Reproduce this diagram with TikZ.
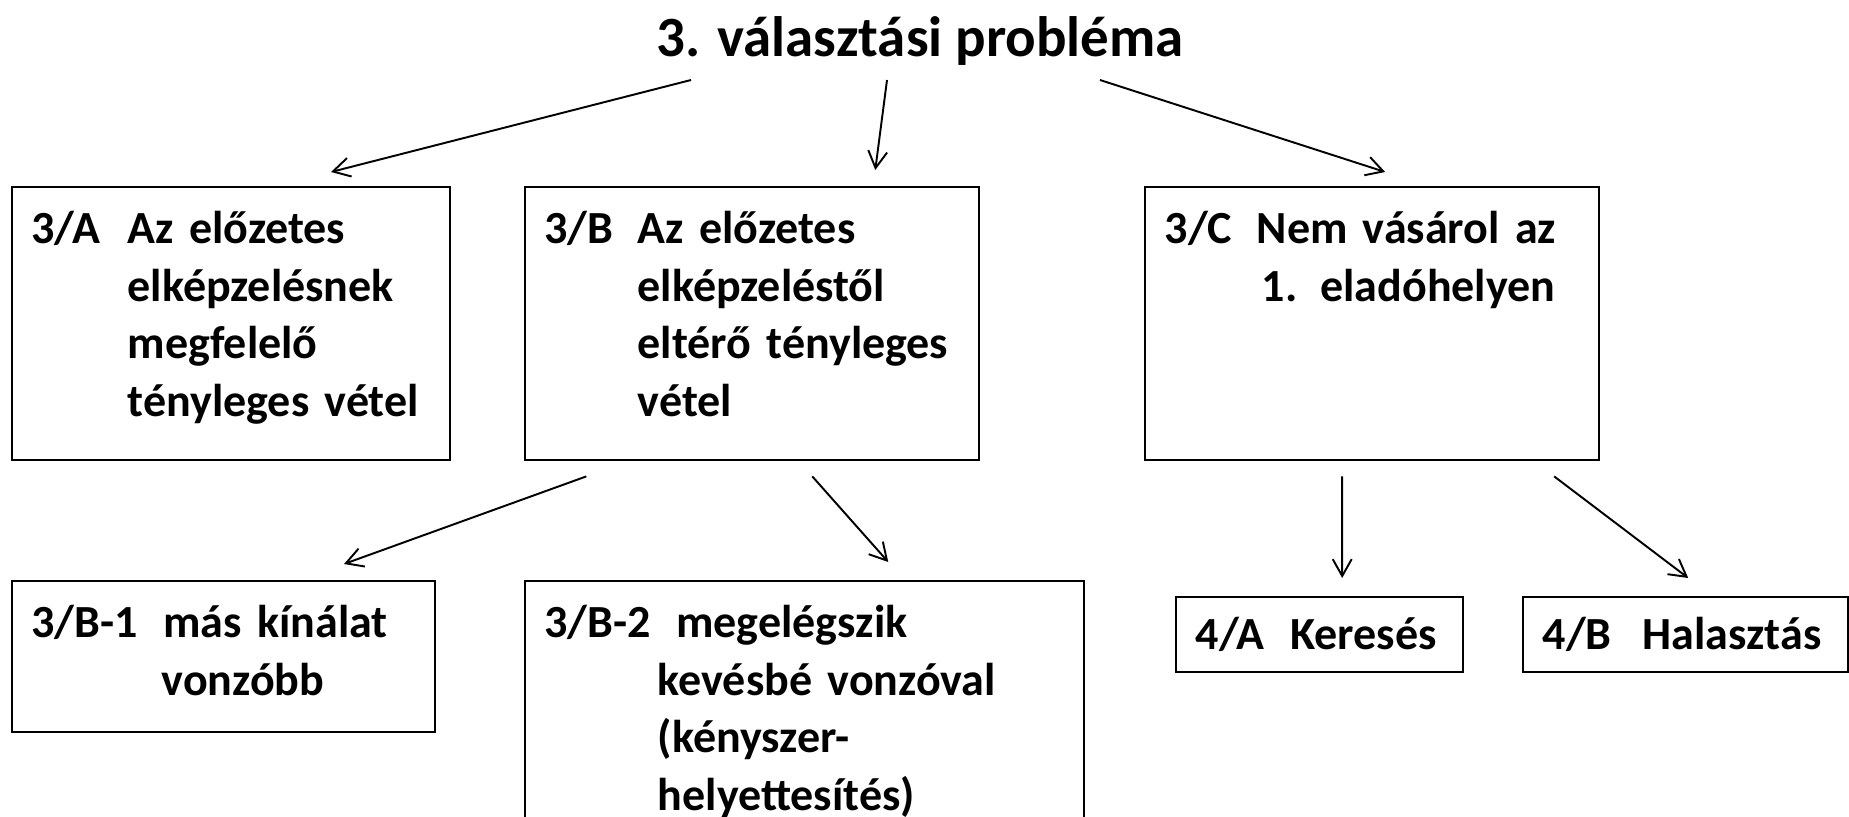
\documentclass[tikz,border=0pt]{standalone}
\usepackage{fontspec}
\setmainfont{Carlito}
\usetikzlibrary{arrows.meta,positioning}
\newcommand{\lbl}[2]{\makebox[#1][l]{#2}}

\begin{document}
\begin{tikzpicture}[
  x=0.02cm, y=-0.02cm,
  box/.style={draw, line width=1.4pt, anchor=north west, align=left, inner xsep=0.39cm, inner ysep=0pt, font=\fontsize{26.2pt}{32.9pt}\selectfont\bfseries, text height=1.12cm},
  arr/.style={-{Straight Barb[length=9.6pt, width=10.8pt]}, line width=1.1pt}]
  \useasboundingbox (0,0) rectangle (1849,817);
  \node[anchor=base, inner sep=0pt, font=\fontsize{32.4pt}{38pt}\selectfont\bfseries] (title) at (920,57) {3. választási probléma};
  \node[box, text width=7.99cm, text depth=4.34cm] (optA) at (10.6,186) {\lbl{1.93cm}{3/A}Az előzetes\\\hspace*{1.93cm}elképzelésnek\\\hspace*{1.93cm}megfelelő\\\hspace*{1.93cm}tényleges vétel};
  \node[box, text width=8.3cm, text depth=4.34cm] (optB) at (523.6,186) {\lbl{1.87cm}{3/B}Az előzetes\\\hspace*{1.87cm}elképzeléstől\\\hspace*{1.87cm}eltérő tényleges\\\hspace*{1.87cm}vétel};
  \node[box, text width=8.3cm, text depth=4.34cm] (optC) at (1144,186) {\lbl{1.84cm}{3/C}Nem vásárol az\\\hspace*{1.94cm}1. eladóhelyen};
  \node[box, text width=7.69cm, text depth=1.9cm] (optB1) at (10.6,580) {\lbl{2.64cm}{3/B-1}más kínálat\\\hspace*{2.61cm}vonzóbb};
  \node[box, text width=10.4cm, text depth=4.6cm] (optB2) at (523.6,580) {\lbl{2.64cm}{3/B-2}megelégszik\\\hspace*{2.27cm}kevésbé vonzóval\\\hspace*{2.27cm}(kényszer-\\\hspace*{2.27cm}helyettesítés)};
  \node[box, inner xsep=0.4cm, text width=4.95cm, text height=1.06cm, text depth=0.45cm] (search) at (1174.5,595.5) {\lbl{1.89cm}{4/A}Keresés};
  \node[box, text width=5.72cm, text height=1.06cm, text depth=0.45cm] (delay) at (1522,595.5) {\lbl{2cm}{4/B}Halasztás};
  \draw[arr] ([xshift=-4.58cm, yshift=-0.46cm]title.base) -- ([xshift=2cm, yshift=0.28cm]optA.north);
  \draw[arr] ([xshift=-0.66cm, yshift=-0.46cm]title.base) -- ([xshift=2.47cm, yshift=0.32cm]optB.north);
  \draw[arr] ([xshift=3.6cm, yshift=-0.46cm]title.base) -- ([xshift=0.26cm, yshift=0.28cm]optC.north);
  \draw[arr] ([xshift=-3.31cm, yshift=-0.3cm]optB.south) -- ([xshift=2.41cm, yshift=0.32cm]optB1.north);
  \draw[arr] ([xshift=1.21cm, yshift=-0.3cm]optB.south) -- ([xshift=1.68cm, yshift=0.36cm]optB2.north);
  \draw[arr] ([xshift=-0.6cm, yshift=-0.3cm]optC.south) -- ([xshift=0.455cm, yshift=0.35cm]search.north);
  \draw[arr] ([xshift=3.64cm, yshift=-0.3cm]optC.south) -- ([xshift=0.05cm, yshift=0.35cm]delay.north);
\end{tikzpicture}
\end{document}
